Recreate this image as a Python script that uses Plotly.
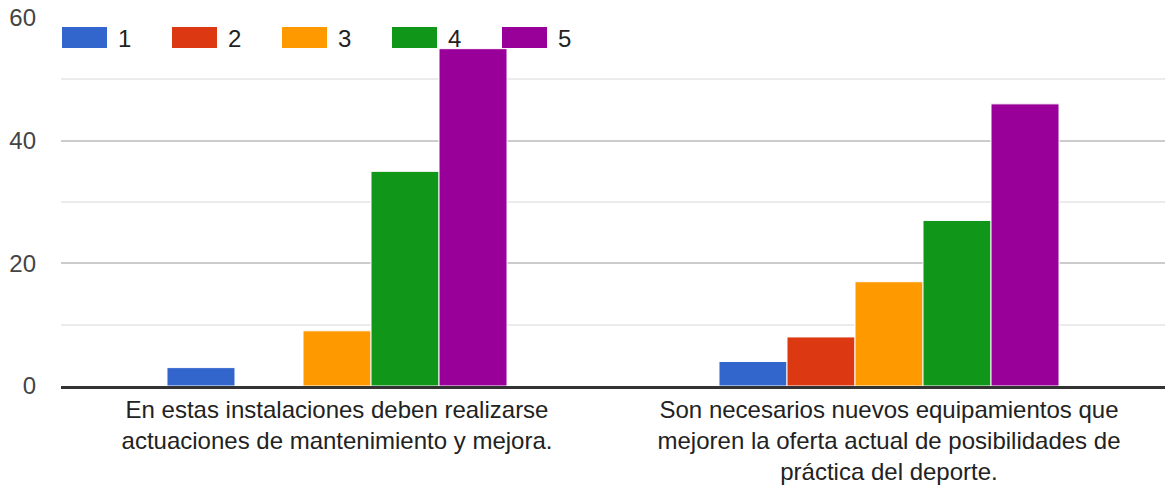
import plotly.graph_objects as go

categories = [
    "En estas instalaciones deben realizarse<br>actuaciones de mantenimiento y mejora.",
    "Son necesarios nuevos equipamientos que<br>mejoren la oferta actual de posibilidades de<br>práctica del deporte.",
]
series_names = ["1", "2", "3", "4", "5"]
values_1 = [3, 4]
values_2 = [0, 8]
values_3 = [9, 17]
values_4 = [35, 27]
values_5 = [55, 46]
y_ticks = [0, 20, 40, 60]

colors = ["#3366cc", "#dc3912", "#ff9900", "#109618", "#990099"]
all_values = [values_1, values_2, values_3, values_4, values_5]

fig = go.Figure()
for name, vals, col in zip(series_names, all_values, colors):
    fig.add_trace(go.Bar(
        x=categories, y=vals, name=name,
        marker=dict(color=col, line=dict(color="white", width=1)),
        showlegend=False,
    ))

# legend drawn by hand so the colour swatches are wide rectangles
shapes = []
annotations = []
for i, (name, col) in enumerate(zip(series_names, colors)):
    x0 = 1 + i * 110
    shapes.append(dict(
        type="rect", xref="paper", yref="paper", xsizemode="pixel", ysizemode="pixel",
        xanchor=0, yanchor=1, x0=x0, x1=x0 + 45, y0=-9, y1=-30,
        fillcolor=col, line=dict(width=0), layer="above",
    ))
    annotations.append(dict(
        xref="paper", yref="paper", x=0, y=1, xanchor="left", yanchor="middle",
        xshift=x0 + 54, yshift=-20, text=name, showarrow=False,
        font=dict(size=24, color="#222222"),
    ))

fig.update_layout(
    width=1167, height=485,
    margin=dict(l=61, r=2, t=18, b=99),
    plot_bgcolor="white", paper_bgcolor="white",
    font=dict(family="Arial, Liberation Sans, sans-serif", size=24, color="#222222"),
    barmode="group", bargap=0.384, bargroupgap=0,
    shapes=shapes, annotations=annotations,
    xaxis=dict(
        showline=True, linecolor="#333333", linewidth=3, showgrid=False, automargin=False,
        ticks="", tickfont=dict(size=24, color="#222222"), layer="above traces",
    ),
    yaxis=dict(
        range=[0, 60], tickvals=y_ticks, showgrid=True, gridcolor="#cccccc", gridwidth=2,
        minor=dict(dtick=10, showgrid=True, gridcolor="#ebebeb", gridwidth=2),
        zeroline=False, showline=False, ticks="", ticklabelstandoff=24, automargin=False,
        tickfont=dict(size=24, color="#444444"),
    ),
)

fig.write_html("out.html", config={"displayModeBar": False},
               post_script="document.body.style.margin='0';")
